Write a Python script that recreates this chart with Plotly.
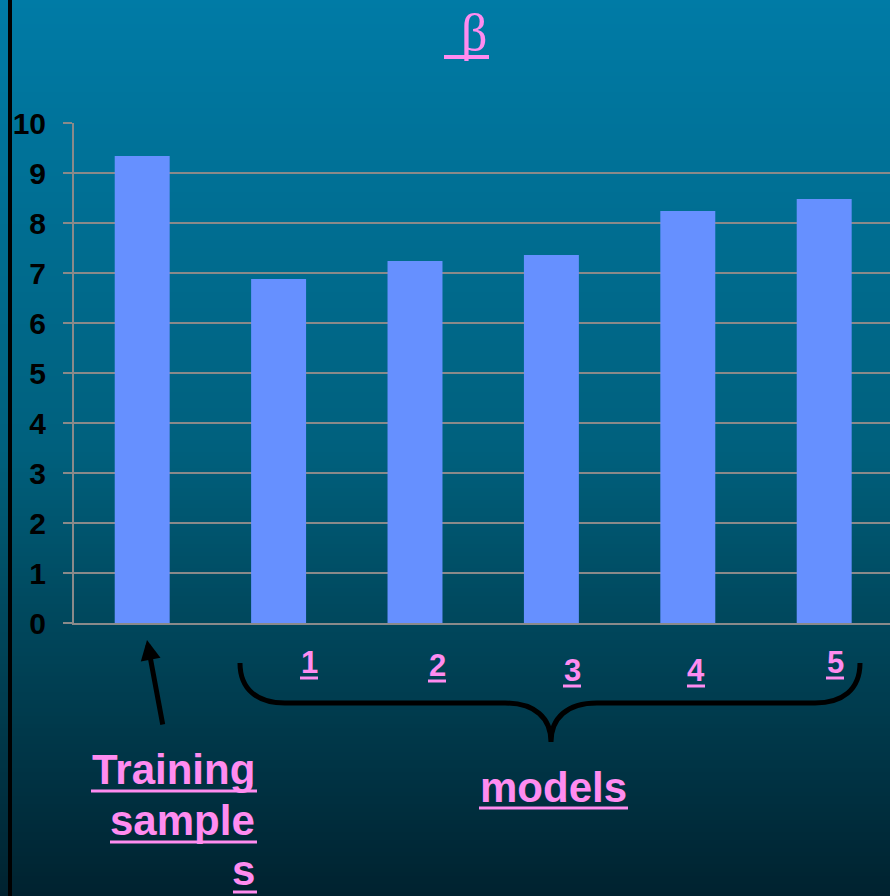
import plotly.graph_objects as go

# ---- data ----
categories = ["Training samples", "1", "2", "3", "4", "5"]
beta_values = [9.34, 6.88, 7.24, 7.36, 8.24, 8.48]
model_labels = ["1", "2", "3", "4", "5"]
y_ticks = [0, 1, 2, 3, 4, 5, 6, 7, 8, 9, 10]

# ---- geometry (pixels) ----
W, H = 890, 896
L, R, T, B = 74, 0, 123, 273
PW, PH = W - L - R, H - T - B


def px(xp):
    return (xp - L) / PW


def py(yp):
    return (H - B - yp) / PH


PINK = "#ff8cf0"
FONT = "Liberation Sans, Arial, sans-serif"

fig = go.Figure()
fig.add_trace(go.Bar(
    x=list(range(len(categories))), y=beta_values, width=0.403,
    marker=dict(color="#6690ff", line=dict(width=0)),
    hovertext=categories, hoverinfo="text+y",
))

shapes = []
# vertical background gradient made of thin strips
stops = [(0, (0, 123, 166)), (450, (0, 96, 125)), (600, (0, 74, 96)), (896, (0, 34, 47))]


def bg_color(y):
    for (y0, c0), (y1, c1) in zip(stops[:-1], stops[1:]):
        if y0 <= y <= y1:
            t = (y - y0) / (y1 - y0)
            return "rgb(%d,%d,%d)" % tuple(round(a + (b - a) * t) for a, b in zip(c0, c1))
    return "rgb(%d,%d,%d)" % stops[-1][1]


step = 4
for y in range(0, H, step):
    shapes.append(dict(type="rect", xref="paper", yref="paper", layer="below",
                       x0=px(0), x1=px(W), y0=py(y + step + 0.5), y1=py(y),
                       fillcolor=bg_color(y + step / 2), line=dict(width=0)))

# black rule on the left edge
shapes.append(dict(type="line", xref="paper", yref="paper",
                   x0=px(10), x1=px(10), y0=py(0), y1=py(H),
                   line=dict(color="black", width=4)))


def pt(x, y):
    return "%.5f,%.5f" % (px(x), py(y))


brace = ("M " + pt(240, 663) +
         " C " + pt(240, 690) + " " + pt(258, 703) + " " + pt(285, 703) +
         " L " + pt(505, 703) +
         " C " + pt(535, 703) + " " + pt(551, 718) + " " + pt(551, 742) +
         " C " + pt(551, 718) + " " + pt(567, 703) + " " + pt(597, 703) +
         " L " + pt(815, 703) +
         " C " + pt(842, 703) + " " + pt(860, 690) + " " + pt(860, 663))
shapes.append(dict(type="path", xref="paper", yref="paper", path=brace,
                   line=dict(color="black", width=5)))


def underline(x0, x1, y, w=3):
    shapes.append(dict(type="line", xref="paper", yref="paper",
                       x0=px(x0), x1=px(x1), y0=py(y), y1=py(y),
                       line=dict(color=PINK, width=w)))


annotations = []
# title
annotations.append(dict(xref="paper", yref="paper", x=px(474), y=py(2),
                        xanchor="center", yanchor="top", showarrow=False,
                        text="β",
                        font=dict(family="Liberation Serif, Times New Roman, serif",
                                  size=52, color=PINK)))
underline(444, 489, 57, 4)

# model numbers under the bars
label_pos = [(309, 662), (437, 665), (572, 670), (696, 670), (835, 662)]
for lab, (lx, ly) in zip(model_labels, label_pos):
    annotations.append(dict(xref="paper", yref="paper", x=px(lx), y=py(ly),
                            xanchor="center", yanchor="middle", showarrow=False,
                            text=lab,
                            font=dict(family=FONT, size=31, color=PINK, weight="bold")))
    underline(lx - 9, lx + 9, ly + 16)

# arrow pointing at the first bar
annotations.append(dict(xref="paper", yref="paper", x=px(147), y=py(640),
                        ax=16, ay=86, text="", showarrow=True,
                        arrowhead=2, arrowsize=0.8, arrowwidth=5,
                        arrowcolor="black", standoff=0))

# "Training samples" caption, right aligned
for word, base, x0 in zip(["Training", "sample", "s"], [783, 834, 884], [91, 110, 233]):
    annotations.append(dict(xref="paper", yref="paper", x=px(257), y=py(base + 12),
                            xanchor="right", yanchor="bottom", showarrow=False,
                            text=word,
                            font=dict(family=FONT, size=42, color=PINK, weight="bold")))
    underline(x0, 257, base + 8)

annotations.append(dict(xref="paper", yref="paper", x=px(553), y=py(813),
                        xanchor="center", yanchor="bottom", showarrow=False,
                        text="models",
                        font=dict(family=FONT, size=42, color=PINK, weight="bold")))
underline(479, 628, 808)

fig.update_layout(
    width=W, height=H,
    margin=dict(l=L, r=R, t=T, b=B, pad=0),
    paper_bgcolor="#00506a", plot_bgcolor="rgba(0,0,0,0)",
    showlegend=False,
    shapes=shapes, annotations=annotations,
    bargap=0.6,
)
fig.update_xaxes(range=[-0.5, -0.5 + PW / 136.4], showticklabels=False,
                 showgrid=False, zeroline=False, showline=True,
                 linecolor="#8a8a8a", linewidth=2, ticks="")
fig.update_yaxes(range=[0, 10], tickvals=y_ticks, showgrid=True,
                 gridcolor="#8a8a8a", gridwidth=2, zeroline=False,
                 showline=True, linecolor="#8a8a8a", linewidth=2,
                 ticks="outside", ticklen=9, tickcolor="#8a8a8a", tickwidth=2,
                 ticklabelstandoff=11,
                 tickfont=dict(family=FONT, size=30, color="black", weight="bold"))

fig.write_html("out.html")
